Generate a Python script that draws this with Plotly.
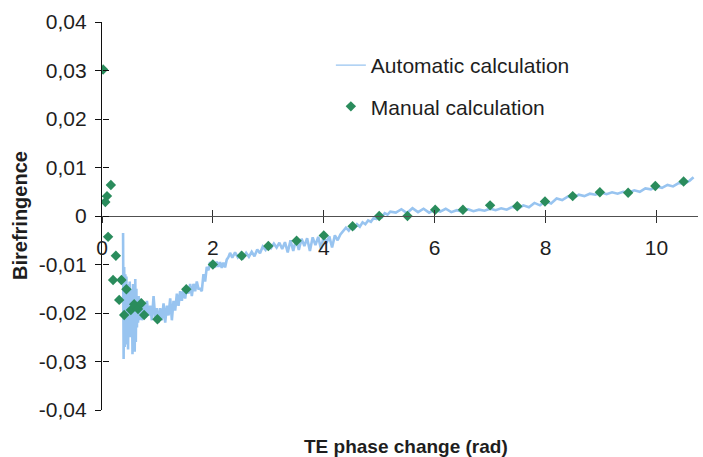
import plotly.graph_objects as go

# Manual calculation: TE phase change (rad) vs birefringence
manual_x = [0.02, 0.06, 0.09, 0.16, 0.11, 0.25, 0.20, 0.35, 0.44, 0.31, 0.40, 0.52,
            0.58, 0.65, 0.71, 0.76, 1.00, 1.52, 2.00, 2.52, 3.00, 3.51, 4.00, 4.52,
            5.00, 5.51, 6.01, 6.51, 7.00, 7.49, 7.99, 8.49, 8.98, 9.49, 9.98, 10.49]
manual_y = [0.0302, 0.0029, 0.0041, 0.0064, -0.0043, -0.0082, -0.0132, -0.0132,
            -0.0151, -0.0173, -0.0204, -0.0194, -0.0182, -0.0192, -0.0180, -0.0204,
            -0.0213, -0.0151, -0.0100, -0.0082, -0.0062, -0.0051, -0.0040, -0.0021,
            0.0000, 0.0000, 0.0013, 0.0013, 0.0022, 0.0020, 0.0030, 0.0041, 0.0049,
            0.0048, 0.0062, 0.0071]

# Automatic calculation (noisy trace)
auto_x = [
    0.38, 0.39, 0.40, 0.41, 0.42, 0.43, 0.44, 0.45, 0.46, 0.47, 0.48, 0.49, 0.50,
    0.51, 0.52, 0.53, 0.54, 0.55, 0.56, 0.57, 0.58, 0.59, 0.60, 0.61, 0.62, 0.63,
    0.64, 0.65, 0.66, 0.67, 0.68, 0.69, 0.70,
    0.72, 0.75, 0.78, 0.81, 0.84, 0.87, 0.90, 0.93, 0.96, 0.99, 1.02, 1.05, 1.08,
    1.11, 1.14, 1.17, 1.20, 1.23, 1.26, 1.29,
    1.32, 1.35, 1.38, 1.41, 1.44, 1.47, 1.50, 1.53, 1.56, 1.59, 1.62, 1.65, 1.68,
    1.71, 1.74, 1.77, 1.80, 1.83, 1.86, 1.89, 1.92, 1.95, 1.98,
    2.01, 2.04, 2.07, 2.10, 2.13, 2.16, 2.19, 2.22, 2.25, 2.28,
    2.31, 2.35, 2.40, 2.45, 2.50, 2.55, 2.60, 2.65, 2.70, 2.75, 2.80, 2.85, 2.90, 2.95,
    3.00, 3.05, 3.10, 3.15, 3.20, 3.25, 3.30, 3.35, 3.40, 3.45, 3.50, 3.55, 3.60,
    3.65, 3.70, 3.75, 3.80, 3.85, 3.90, 3.95, 4.00, 4.05, 4.10, 4.15, 4.20, 4.25, 4.30,
    4.35, 4.40, 4.45, 4.50, 4.55, 4.60, 4.65, 4.70, 4.75, 4.80, 4.85, 4.90, 4.95,
    5.00, 5.05, 5.10, 5.15, 5.20,
    5.3, 5.4, 5.5, 5.6, 5.7, 5.8, 5.9, 6.0, 6.1, 6.2, 6.3, 6.4, 6.5, 6.6, 6.7, 6.8,
    6.9, 7.0, 7.1, 7.2, 7.3, 7.4, 7.5,
    7.6, 7.7, 7.8, 7.9, 8.0, 8.1, 8.2, 8.3, 8.4, 8.5, 8.6, 8.7, 8.8, 8.9, 9.0, 9.1,
    9.2, 9.3, 9.4, 9.5, 9.6, 9.7, 9.8, 9.9, 10.0, 10.1, 10.2, 10.3, 10.4, 10.5,
    10.6, 10.67,
]
auto_y = [
    -0.0035, -0.0295, -0.0105, -0.0270, -0.0120, -0.0230, -0.0125, -0.0265, -0.0140,
    -0.0275, -0.0150, -0.0220, -0.0135, -0.0250, -0.0160, -0.0230, -0.0150, -0.0285,
    -0.0140, -0.0275, -0.0165, -0.0280, -0.0130, -0.0260, -0.0150, -0.0230, -0.0170,
    -0.0220, -0.0165, -0.0215, -0.0170, -0.0210, -0.0175,
    -0.0215, -0.0180, -0.0210, -0.0175, -0.0205, -0.0185, -0.0215, -0.0165, -0.0210,
    -0.0190, -0.0220, -0.0190, -0.0215, -0.0180, -0.0220, -0.0185, -0.0205, -0.0170,
    -0.0215, -0.0175,
    -0.0195, -0.0160, -0.0185, -0.0155, -0.0175, -0.0150, -0.0170, -0.0145, -0.0160,
    -0.0140, -0.0165, -0.0140, -0.0155, -0.0135, -0.0150, -0.0150, -0.0155, -0.0120,
    -0.0135, -0.0105, -0.0112, -0.0095, -0.0105,
    -0.0096, -0.0106, -0.0094, -0.0105, -0.0095, -0.0107, -0.0096, -0.0106, -0.0090,
    -0.0085,
    -0.0076, -0.0086, -0.0075, -0.0085, -0.0077, -0.0086, -0.0076, -0.0084, -0.0074,
    -0.0083, -0.0069, -0.0077, -0.0063, -0.0070,
    -0.0058, -0.0066, -0.0057, -0.0065, -0.0055, -0.0068, -0.0054, -0.0075, -0.0050,
    -0.0072, -0.0048, -0.0070, -0.0047, -0.0062, -0.0046, -0.0072, -0.0044, -0.0060,
    -0.0043, -0.0068, -0.0041, -0.0055, -0.0042, -0.0065, -0.0040, -0.0050, -0.0038,
    -0.0030, -0.0024, -0.0030, -0.0021, -0.0026, -0.0017, -0.0022, -0.0013, -0.0017,
    -0.0009, -0.0012, -0.0004, -0.0006,
    0.0001, -0.0002, 0.0006, 0.0003, 0.0009,
    0.0007, 0.0014, 0.0006, 0.0016, 0.0008, 0.0015, 0.0007, 0.0013, 0.0009, 0.0015,
    0.0008, 0.0012, 0.0009, 0.0014, 0.0010, 0.0013, 0.0011, 0.0015, 0.0012, 0.0016,
    0.0013, 0.0019, 0.0015,
    0.0022, 0.0018, 0.0027, 0.0022, 0.0031, 0.0026, 0.0036, 0.0033, 0.0040, 0.0037,
    0.0044, 0.0041, 0.0046, 0.0044, 0.0049, 0.0045, 0.0049, 0.0046, 0.0050, 0.0048,
    0.0053, 0.0050, 0.0057, 0.0055, 0.0061, 0.0058, 0.0064, 0.0061, 0.0068, 0.0066,
    0.0073, 0.0080,
]

x_ticks = [0, 2, 4, 6, 8, 10]
y_ticks = [-0.04, -0.03, -0.02, -0.01, 0, 0.01, 0.02, 0.03, 0.04]
y_tick_labels = ["-0,04", "-0,03", "-0,02", "-0,01", "0", "0,01", "0,02", "0,03", "0,04"]

FONT = "Liberation Sans, Arial, sans-serif"
TEXT = "#1e1e1e"
LINE_BLUE = "#98c4f0"
GREEN = "#2a8c5c"

fig = go.Figure()

# thick noisy band in the plot; its legend entry is a thin line drawn by a separate key trace
fig.add_trace(go.Scatter(
    x=auto_x, y=auto_y, mode="lines", name="Automatic calculation",
    line=dict(color=LINE_BLUE, width=2.6), showlegend=False, hoverinfo="skip",
))
fig.add_trace(go.Scatter(
    x=[None], y=[None], mode="lines", name="Automatic calculation",
    line=dict(color=LINE_BLUE, width=1.2), legendgroup="a",
))
fig.add_trace(go.Scatter(
    x=manual_x, y=manual_y, mode="markers", name="Manual calculation",
    marker=dict(symbol="diamond", size=8, color=GREEN), legendgroup="m",
))
# empty trace that carries the overlay axes drawing the crossing half of each tick
fig.add_trace(go.Scatter(x=[], y=[], xaxis="x2", yaxis="y2", showlegend=False,
                         hoverinfo="skip"))

fig.update_layout(
    width=703, height=457,
    margin=dict(l=102, r=5, t=22, b=47),
    paper_bgcolor="white", plot_bgcolor="white",
    font=dict(family=FONT, size=21, color=TEXT),
    showlegend=True,
    legend=dict(
        x=0.384, y=0.941, xanchor="left", yanchor="top",
        bgcolor="rgba(0,0,0,0)", borderwidth=0,
        font=dict(family=FONT, size=21, color=TEXT),
        traceorder="grouped", tracegroupgap=11, itemsizing="trace",
    ),
    xaxis=dict(
        range=[0, 10.75], tickvals=x_ticks, ticktext=[str(v) for v in x_ticks],
        showgrid=False, zeroline=False,
        showline=True, linecolor="#505050", linewidth=1.2,
        ticks="outside", ticklen=6, tickwidth=1.2, tickcolor="#303030",
        anchor="free", position=0.5, ticklabelstandoff=7,
        tickfont=dict(family=FONT, size=21, color=TEXT),
    ),
    yaxis=dict(
        range=[-0.04, 0.04], tickvals=y_ticks, ticktext=y_tick_labels,
        showgrid=False, zeroline=False,
        showline=True, linecolor="#101010", linewidth=1.2,
        ticks="outside", ticklen=6, tickwidth=1.2, tickcolor="#101010",
        ticklabelstandoff=4,
        tickfont=dict(family=FONT, size=21, color=TEXT),
    ),
    xaxis2=dict(
        overlaying="x", matches="x", anchor="free", position=0.5,
        tickvals=x_ticks, showticklabels=False, showgrid=False, zeroline=False,
        showline=False, ticks="inside", ticklen=6, tickwidth=1.2, tickcolor="#303030",
    ),
    yaxis2=dict(
        overlaying="y", matches="y", anchor="free", position=0, side="left",
        tickvals=y_ticks, showticklabels=False, showgrid=False, zeroline=False,
        showline=False, ticks="inside", ticklen=6, tickwidth=1.2, tickcolor="#101010",
    ),
    annotations=[
        dict(text="<b>Birefringence</b>", textangle=-90, xref="paper", yref="paper",
             x=0, y=0.5, xshift=-82, xanchor="center", yanchor="middle",
             showarrow=False, font=dict(family=FONT, size=20, color=TEXT)),
        dict(text="<b>TE phase change (rad)</b>", xref="paper", yref="paper",
             x=0.51, y=0, yshift=-36, xanchor="center", yanchor="middle",
             showarrow=False, font=dict(family=FONT, size=19, color=TEXT)),
    ],
)

fig.write_html("out.html")
